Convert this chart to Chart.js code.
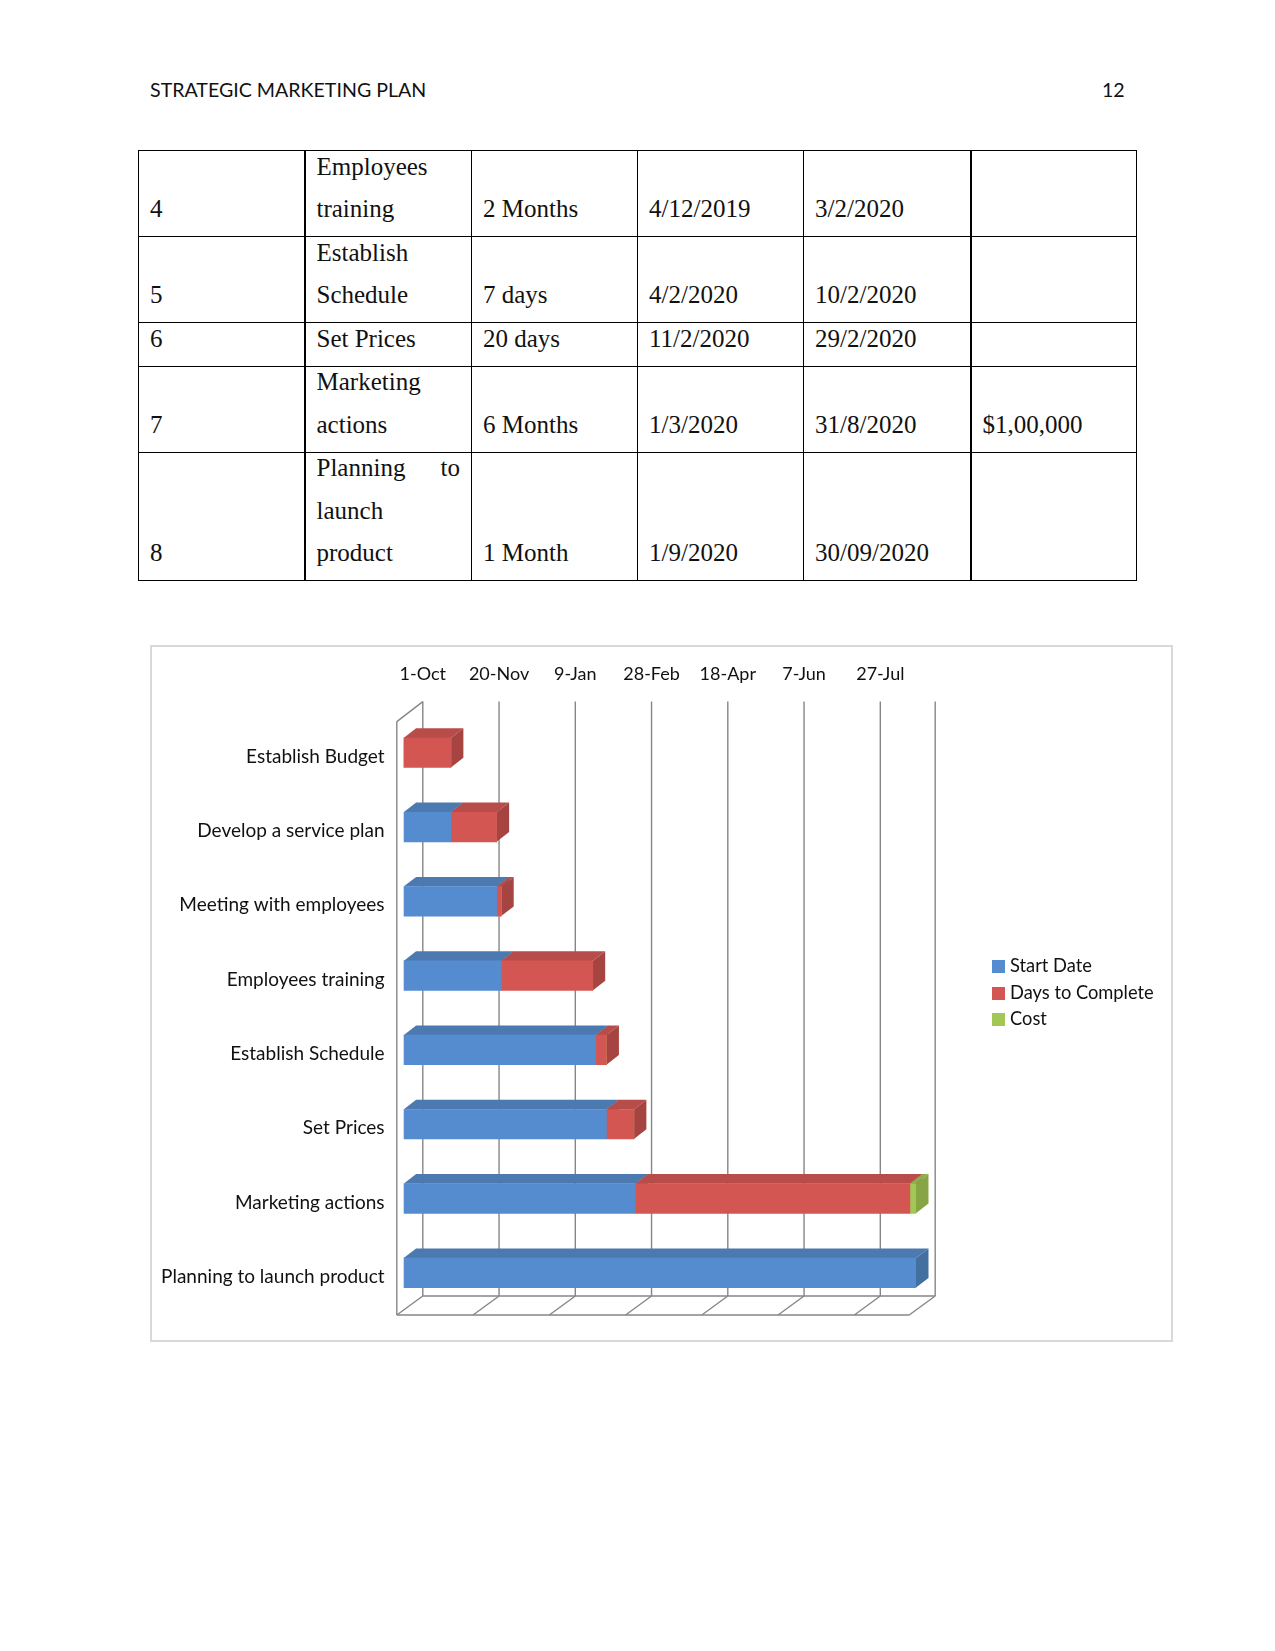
<!DOCTYPE html>
<html>
<head>
<meta charset="utf-8">
<title>Strategic Marketing Plan</title>
<script src="https://cdn.jsdelivr.net/npm/chart.js@4"></script>
<style>
  body { margin: 0; background: #fff; width: 1275px; height: 1651px; position: relative; overflow: hidden; }
  .head { position: absolute; top: 76px; font: 19.6px Lato, sans-serif; color: #111; line-height: 27px; }
  #plan { position: absolute; left: 138px; top: 150px; border-collapse: collapse; table-layout: fixed; width: 998px;
          font: 25px "Liberation Serif", serif; color: #111; }
  #plan td { border: 1px solid #000; padding: 0 11px; line-height: 42.5px; vertical-align: bottom; }
  #plan td > div { position: relative; top: -5.5px; }
  #plan td:nth-child(1), #plan td:nth-child(5) { border-right-width: 2px; }
  .spread { display: flex; justify-content: space-between; }
  #frame { position: absolute; left: 150px; top: 645px; width: 1019px; height: 693px; border: 2px solid #d9d9d9; box-sizing: content-box; }
  #frame canvas { position: absolute; left: -2px; top: -2px; }
  #legend { position: absolute; left: 840px; top: 305px; font: 18.3px Lato, sans-serif; color: #111; }
  #legend div { height: 26.5px; line-height: 26.5px; white-space: nowrap; }
  #legend i { display: inline-block; width: 13px; height: 13px; margin-right: 5px; vertical-align: -1px; }
</style>
</head>
<body>
<div class="head" style="left:150px">STRATEGIC MARKETING PLAN</div>
<div class="head" style="left:1102px">12</div>
<table id="plan"><colgroup id="cols"></colgroup><tbody></tbody></table>
<div id="frame">
  <canvas id="gantt" width="1021" height="695"></canvas>
  <div id="legend"></div>
</div>
<script>
// table on the page above the chart
const tableRows = [
  ['4', 'Employees<br>training', '2 Months', '4/12/2019', '3/2/2020', ''],
  ['5', 'Establish<br>Schedule', '7 days', '4/2/2020', '10/2/2020', ''],
  ['6', 'Set Prices', '20 days', '11/2/2020', '29/2/2020', ''],
  ['7', 'Marketing<br>actions', '6 Months', '1/3/2020', '31/8/2020', '$1,00,000'],
  ['8', '<div class="spread"><span>Planning</span><span>to</span></div>launch<br>product', '1 Month', '1/9/2020', '30/09/2020', '']
];
const colWidths = [166, 167, 166, 166, 167, 166];

// chart data, values are days counted from 1-Oct
const categories = ['Establish Budget', 'Develop a service plan', 'Meeting with employees', 'Employees training',
  'Establish Schedule', 'Set Prices', 'Marketing actions', 'Planning to launch product'];
const startDate = [0, 31, 61, 64, 126, 133, 152, 336];
const daysToComplete = [31, 30, 3, 60, 7, 18, 180, 0];
const cost = [0, 0, 0, 0, 0, 0, 4, 0];
const tickLabels = ['1-Oct', '20-Nov', '9-Jan', '28-Feb', '18-Apr', '7-Jun', '27-Jul'];
const axisMax = 336;

const seriesNames = ['Start Date', 'Days to Complete', 'Cost'];
const frontColors = ['#558ccf', '#d45653', '#a3c755'];
const topColors = ['#4c7ab0', '#b84c49', '#8fab4b'];
const sideColors = ['#44709f', '#a64441', '#88a545'];

const wallColor = '#868686';

function quad(ctx, pts, color) {
    ctx.fillStyle = color;
    ctx.beginPath();
    pts.forEach((p, i) => i ? ctx.lineTo(p[0], p[1]) : ctx.moveTo(p[0], p[1]));
    ctx.closePath();
    ctx.fill();
}

function seg(ctx, x1, y1, x2, y2) {
    ctx.beginPath();
    ctx.moveTo(x1, y1);
    ctx.lineTo(x2, y2);
    ctx.stroke();
}

// 3D look: walls and floor behind, then the top and side of every bar
const depthPlugin = {
    id: 'depth',
    beforeDatasetsDraw(chart) {
        const ctx = chart.ctx;
        const xs = chart.scales.x;
        const a = chart.chartArea;

        // the bars stand a little inside the box
        const frontDx = -6.8, backDx = 19.2;
        const wallTopFront = a.top + 6, wallTopBack = a.top - 14;
        const floorFront = a.bottom + 5, floorBack = a.bottom - 14;

        ctx.save();
        ctx.strokeStyle = wallColor;
        ctx.lineWidth = 1.4;
        xs.ticks.forEach(t => {
            const x = xs.getPixelForValue(t.value);
            seg(ctx, x + backDx, wallTopBack, x + backDx, floorBack);
            seg(ctx, x + backDx, floorBack, x + frontDx, floorFront);
        });
        const endX = xs.getPixelForValue(axisMax);
        seg(ctx, endX + backDx, wallTopBack, endX + backDx, floorBack);
        seg(ctx, endX + backDx, floorBack, endX + frontDx, floorFront);
        seg(ctx, a.left + backDx, floorBack, endX + backDx, floorBack);
        seg(ctx, a.left + frontDx, floorFront, endX + frontDx, floorFront);
        seg(ctx, a.left + frontDx, wallTopFront, a.left + frontDx, floorFront);
        seg(ctx, a.left + frontDx, wallTopFront, a.left + backDx, wallTopBack);

        const dx = 12.5, dy = -9.7;
        chart.data.datasets.forEach((ds, i) => {
            chart.getDatasetMeta(i).data.forEach((bar, j) => {
                if (!ds.data[j]) return;
                const l = Math.min(bar.x, bar.base), r = Math.max(bar.x, bar.base);
                const t = bar.y - bar.height / 2, b = bar.y + bar.height / 2;
                quad(ctx, [[l, t], [l + dx, t + dy], [r + dx, t + dy], [r, t]], topColors[i]);
                quad(ctx, [[r, t], [r + dx, t + dy], [r + dx, b + dy], [r, b]], sideColors[i]);
            });
        });
        ctx.restore();
    }
};

function renderTable() {
    document.getElementById('cols').innerHTML = colWidths.map(w => `<col style="width:${w}px">`).join('');
    const body = document.querySelector('#plan tbody');
    tableRows.forEach(row => {
        const tr = document.createElement('tr');
        tr.innerHTML = row.map(c => `<td><div>${c}</div></td>`).join('');
        body.appendChild(tr);
    });
}

function renderLegend() {
    document.getElementById('legend').innerHTML = seriesNames
        .map((n, i) => `<div><i style="background:${frontColors[i]}"></i>${n}</div>`).join('');
}

function initChart() {
    new Chart(document.getElementById('gantt').getContext('2d'), {
        type: 'bar',
        plugins: [depthPlugin],
        data: {
            labels: categories,
            datasets: [
                { label: seriesNames[0], data: startDate, backgroundColor: frontColors[0] },
                { label: seriesNames[1], data: daysToComplete, backgroundColor: frontColors[1] },
                { label: seriesNames[2], data: cost, backgroundColor: frontColors[2] }
            ]
        },
        options: {
            indexAxis: 'y',
            responsive: false,
            animation: false,
            layout: { padding: { left: 0, top: 0, right: 255, bottom: 30 } },
            datasets: { bar: { barThickness: 29.5 } },
            plugins: { legend: { display: false }, tooltip: { enabled: false } },
            scales: {
                x: {
                    position: 'top',
                    stacked: true,
                    min: 0,
                    max: axisMax,
                    afterFit: s => { s.height = 70.6; },
                    grid: { display: false },
                    border: { display: false },
                    ticks: {
                        stepSize: 50,
                        includeBounds: false,
                        autoSkip: false,
                        maxRotation: 0,
                        labelOffset: 19.2,
                        padding: 23,
                        color: '#111',
                        font: { family: 'Lato, sans-serif', size: 18 },
                        callback: (v, i) => tickLabels[i]
                    }
                },
                y: {
                    stacked: true,
                    afterFit: s => { s.width = 253.6; },
                    grid: { display: false },
                    border: { display: false },
                    ticks: { autoSkip: false, padding: 11, labelOffset: 4, color: '#111', font: { family: 'Lato, sans-serif', size: 19 } }
                }
            }
        }
    });
}

renderTable();
renderLegend();
initChart();
</script>
</body>
</html>
